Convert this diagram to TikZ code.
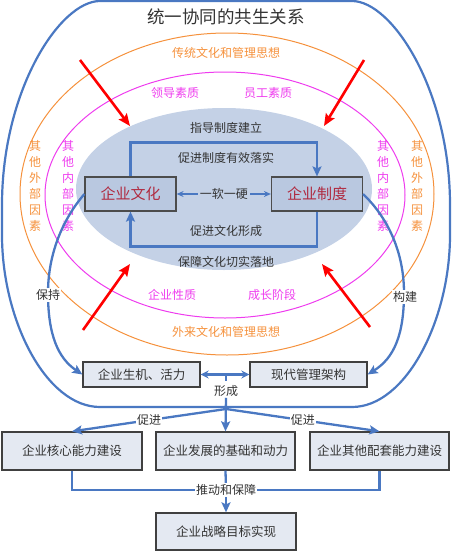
\documentclass[tikz,border=0pt]{standalone}
\usepackage{fontspec}
\setmainfont{Noto Sans CJK SC}
\usetikzlibrary{arrows.meta}
\definecolor{bl}{HTML}{4A78C2}
\definecolor{org}{HTML}{F5913C}
\definecolor{mag}{HTML}{EE3CEE}
\definecolor{ell}{HTML}{C4D1E6}
\definecolor{boxf}{HTML}{E4E9F2}
\definecolor{iboxf}{HTML}{B9C8E0}
\definecolor{crim}{HTML}{B02A40}
\definecolor{txt}{HTML}{333333}
\tikzset{
  fs/.style={font=\fontsize{#1}{#1}\selectfont},
  wbox/.style={draw=black!75, line width=1.3pt, fill=boxf, text=txt, fs=12.5, inner sep=0pt},
  ibox/.style={draw=black!70, line width=1.2pt, fill=iboxf, text=crim, fs=15, inner sep=0pt, minimum width=91pt, minimum height=34pt},
  barrow/.style={draw=bl, line width=2.3pt, -{Stealth[length=10pt,width=9pt,inset=2pt]}},
  bline/.style={draw=bl, line width=2.3pt},
  rarrow/.style={draw=red, line width=2.6pt, -{Stealth[length=12pt,width=10pt,inset=2pt]}},
  vtext/.style={align=center, inner sep=0pt, fs=12, font=\fontsize{12}{16}\selectfont},
  lbl/.style={fs=12, inner sep=1pt, text=txt},
}
\begin{document}
\begin{tikzpicture}[x=1pt,y=-1pt]
\useasboundingbox (0,0) rectangle (452,552);
% outer blue
\draw[bl, line width=2.2pt] (100,1) -- (352,1) .. controls (392,1) and (450,90) .. (450,205) -- (450,235) .. controls (450,320) and (406,407) .. (352,407) -- (100,407) .. controls (46,407) and (2,320) .. (2,235) -- (2,205) .. controls (2,90) and (60,1) .. (100,1) -- cycle;
\node[fs=17.5, text=txt] (title) at (226,17) {统一协同的共生关系};
% ellipses
\draw[org, line width=1pt] (227,194) ellipse [x radius=207, y radius=161];
\draw[mag, line width=1pt] (225,195) ellipse [x radius=180, y radius=123];
\fill[ell] (224,189) ellipse [x radius=148, y radius=81];
% orange texts
\node[fs=12, text=org] (o1) at (226,53) {传统文化和管理思想};
\node[fs=12, text=org] (o2) at (226,332) {外来文化和管理思想};
\node[vtext, text=org] (o3) at (35,186) {其\\他\\外\\部\\因\\素};
\node[vtext, text=org] (o4) at (417,186) {其\\他\\外\\部\\因\\素};
% magenta texts
\node[fs=12, text=mag] (m1) at (175,93) {领导素质};
\node[fs=12, text=mag] (m2) at (268,93) {员工素质};
\node[fs=12, text=mag] (m3) at (172,295) {企业性质};
\node[fs=12, text=mag] (m4) at (272,295) {成长阶段};
\node[vtext, text=mag] (m5) at (68,186) {其\\他\\内\\部\\因\\素};
\node[vtext, text=mag] (m6) at (383,186) {其\\他\\内\\部\\因\\素};
% inner texts
\node[lbl] (i1) at (226,128) {指导制度建立};
\node[lbl] (i2) at (226,158) {促进制度有效落实};
\node[lbl] (i4) at (226,231) {促进文化形成};
\node[lbl] (i5) at (226,262) {保障文化切实落地};
% inner boxes
\node[ibox] (cul) at (130.5,194) {企业文化};
\node[ibox] (sys) at (317,194) {企业制度};
\draw[barrow] (cul.north) -- ++(0,-34) -| (sys.north);
\draw[barrow] (sys.south) -- ++(0,35) -| (cul.south);
\draw[draw=bl, line width=1.4pt, {Stealth[length=7pt,width=6pt]}-{Stealth[length=7pt,width=6pt]}] (cul.east) -- (sys.west) node[midway, fill=ell, lbl, inner sep=2pt] (ys) {一软一硬};
% red arrows
\coordinate (r1s) at (80,60);  \coordinate (r1e) at (130,126);
\coordinate (r2s) at (364,60); \coordinate (r2e) at (324,126);
\coordinate (r3s) at (83,330); \coordinate (r3e) at (130,264);
\coordinate (r4s) at (370,327);\coordinate (r4e) at (322,264);
\draw[rarrow] (r1s) -- (r1e);
\draw[rarrow] (r2s) -- (r2e);
\draw[rarrow] (r3s) -- (r3e);
\draw[rarrow] (r4s) -- (r4e);
% row 2 boxes
\node[wbox, minimum width=117pt, minimum height=25pt] (vit) at (141.5,374.5) {企业生机、活力};
\node[wbox, minimum width=117pt, minimum height=25pt] (mgmt) at (308.5,374.5) {现代管理架构};
\draw[draw=bl, line width=2.2pt, {Stealth[length=8pt,width=8pt]}-{Stealth[length=8pt,width=8pt]}] (vit.east) -- (mgmt.west);
\coordinate (mid) at (226,374.5);
\coordinate (tick) at (226,381);
\draw[bline] (mid) -- (tick);
\node[lbl] (form) at (226,391) {形成};
% curved side arrows
\draw[barrow] (cul.west) .. controls (62,220) and (48,255) .. (48,293) .. controls (48,335) and (58,358) .. (vit.west);
\node[lbl, fill=white] (keep) at (48,295) {保持};
\draw[barrow] (sys.east) .. controls (390,220) and (404,255) .. (404,293) .. controls (404,335) and (394,358) .. (mgmt.east);
\node[lbl, fill=white] (build) at (405,297) {构建};
% row 3 boxes
\node[wbox, minimum width=140pt, minimum height=38pt] (lb) at (72,451) {企业核心能力建设};
\node[wbox, minimum width=139pt, minimum height=38pt] (mb) at (225.5,451) {企业发展的基础和动力};
\node[wbox, minimum width=139pt, minimum height=38pt] (rb) at (379.5,451) {企业其他配套能力建设};
\coordinate (jn) at (226,409);
\draw[barrow] (form.south) -- (mb.north);
\draw[barrow] (jn) -- (lb.north) node[pos=0.5, lbl, fill=white] (p1) {促进};
\draw[barrow] (jn) -- (rb.north) node[pos=0.5, lbl, fill=white] (p2) {促进};
% bottom
\node[wbox, minimum width=140pt, minimum height=37pt] (fin) at (226,531.5) {企业战略目标实现};
\coordinate (bj) at (226,490);
\draw[bline] (lb.south) |- (bj) -| (rb.south);
\draw[bline] (mb.south) -- (bj);
\draw[barrow] (bj) -- (fin.north);
\node[lbl, fill=white] (push) at (bj) {推动和保障};
\end{tikzpicture}
\end{document}
